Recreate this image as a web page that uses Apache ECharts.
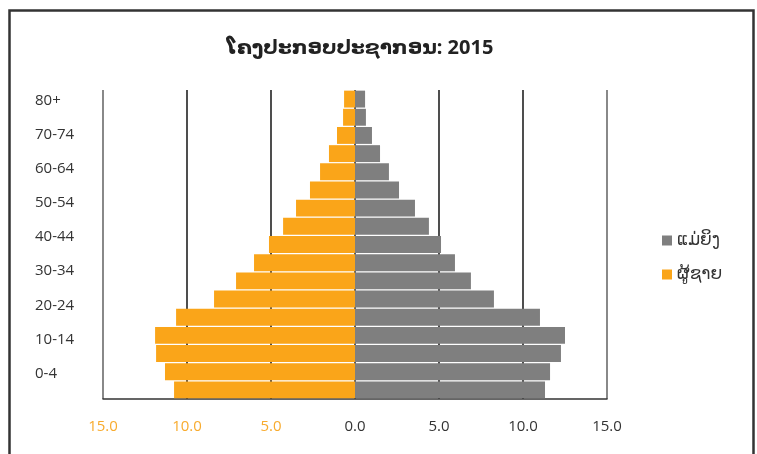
<!DOCTYPE html>
<html>
<head>
<meta charset="utf-8">
<script src="https://cdn.jsdelivr.net/npm/echarts@6/dist/echarts.min.js"></script>
<style>
html,body{margin:0;padding:0;background:#fff;}
#chart{width:757px;height:454px;}
</style>
</head>
<body>
<div id="chart"></div>
<script>
// Age groups, bottom (0-4) to top (80+)
const ageGroups = ['0-4','5-9','10-14','15-19','20-24','25-29','30-34','35-39','40-44','45-49','50-54','55-59','60-64','65-69','70-74','75-79','80+'];
// Percent of population
const male   = [10.77, 11.31, 11.84, 11.9, 10.65, 8.39, 7.08, 6.01, 5.12, 4.28, 3.51, 2.68, 2.08, 1.55, 1.07, 0.71, 0.65];
const female = [11.31, 11.61, 12.26, 12.5, 11.01, 8.27, 6.90, 5.95, 5.12, 4.40, 3.57, 2.62, 2.02, 1.49, 1.01, 0.65, 0.60];
// Tick labels shown on the age axis (bottom to top)
const ageTickLabels = ['0-4','10-14','20-24','30-34','40-44','50-54','60-64','70-74','80+'];
const xTicks = { min: -15, max: 15, interval: 5 };
const titleText = 'ໂຄງປະກອບປະຊາກອນ: 2015';
const femaleName = 'ແມ່ຍິງ';
const maleName = 'ຜູ້ຊາຍ';

const ORANGE = '#FAA519';
const GRAY = '#7F7F7F';
const FONT = "'Open Sans', 'DejaVu Sans', sans-serif";

const chart = echarts.init(document.getElementById('chart'), null, {renderer: 'canvas'});
chart.setOption({
  animation: false,
  backgroundColor: '#fff',
  title: {
    text: titleText,
    left: 355,
    textAlign: 'center',
    top: 33,
    textStyle: {fontSize: 20, fontWeight: 'bold', color: '#222', fontFamily: "'Noto Sans', 'DejaVu Sans', sans-serif"}
  },
  legend: {
    orient: 'vertical',
    left: 657,
    top: 227,
    itemWidth: 10,
    itemHeight: 10,
    itemGap: 17,
    icon: 'rect',
    data: [femaleName, maleName],
    textStyle: {fontSize: 17, color: '#333', fontFamily: "'Noto Sans', 'DejaVu Sans', sans-serif"}
  },
  graphic: [{
    type: 'rect',
    shape: {x: 9.5, y: 10.5, width: 744, height: 500},
    style: {fill: 'none', stroke: '#333', lineWidth: 2.5},
    silent: true,
    z: 100
  }],
  grid: [
    {left: 103, right: 150, top: 90, bottom: 55},
    {left: 103, right: 150, top: 100.5, height: 273}
  ],
  xAxis: [
    {
      type: 'value',
      gridIndex: 0,
      min: xTicks.min, max: xTicks.max, interval: xTicks.interval,
      axisLine: {show: true, onZero: false, lineStyle: {color: '#333', width: 1.5}},
      axisTick: {show: false},
      splitLine: {show: true, lineStyle: {color: ['#6b6b6b','#222','#222','#333','#222','#222','#6b6b6b'], width: 1.6}},
      axisLabel: {
        margin: 20,
        fontSize: 15,
        fontFamily: FONT,
        formatter: v => Math.abs(v).toFixed(1),
        color: v => (v < 0 ? '#F8AB2E' : '#333')
      }
    },
    {
      type: 'value', gridIndex: 1, min: 0, max: 1,
      show: false
    }
  ],
  yAxis: [
    {
      type: 'category',
      gridIndex: 0,
      data: ageGroups,
      axisLine: {show: false},
      axisTick: {show: false},
      axisLabel: {show: false},
      splitLine: {show: false}
    },
    {
      type: 'category',
      gridIndex: 1,
      data: ageTickLabels,
      boundaryGap: false,
      axisLine: {show: false},
      axisTick: {show: false},
      splitLine: {show: false},
      axisLabel: {
        interval: 0,
        align: 'left',
        margin: 68,
        fontSize: 15,
        color: '#333',
        fontFamily: FONT
      }
    }
  ],
  series: [
    {
      name: femaleName,
      type: 'bar',
      stack: 'pyr',
      xAxisIndex: 0, yAxisIndex: 0,
      barCategoryGap: '7%',
      itemStyle: {color: GRAY},
      data: female
    },
    {
      name: maleName,
      type: 'bar',
      stack: 'pyr',
      xAxisIndex: 0, yAxisIndex: 0,
      barCategoryGap: '7%',
      itemStyle: {color: ORANGE},
      data: male.map(v => -v)
    }
  ]
});
</script>
</body>
</html>
